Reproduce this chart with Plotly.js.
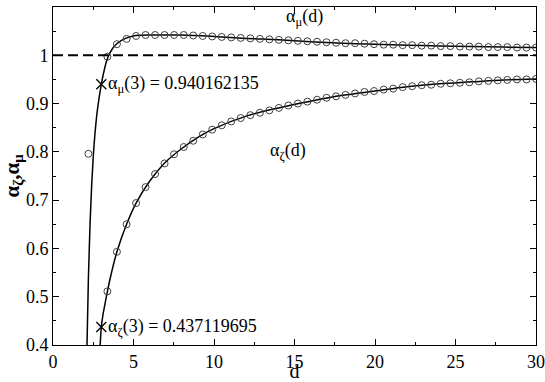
<!DOCTYPE html>
<html>
<head>
<meta charset="utf-8">
<script src="https://cdn.plot.ly/plotly-3.0.1.min.js"></script>
<style>
  html, body { margin: 0; padding: 0; background: #fff; }
  #chart { width: 545px; height: 382px; }
</style>
</head>
<body>
<div id="chart"></div>
<script>
// sample points (circles)
var muD = [2.20, 3.38, 3.97, 4.57, 5.16, 5.75, 6.34, 6.93, 7.52, 8.12, 8.71, 9.30, 9.89,
  10.48, 11.07, 11.66, 12.26, 12.85, 13.44, 14.03, 14.62, 15.21, 15.80, 16.40, 16.99,
  17.58, 18.17, 18.76, 19.35, 19.94, 20.54, 21.13, 21.72, 22.31, 22.90, 23.49, 24.08,
  24.68, 25.27, 25.86, 26.45, 27.04, 27.63, 28.22, 28.82, 29.41, 30.00];
var muVal = [0.796, 0.997, 1.023, 1.034, 1.040, 1.042, 1.042, 1.042, 1.042, 1.042, 1.041,
  1.040, 1.039, 1.038, 1.037, 1.036, 1.035, 1.034, 1.033, 1.032, 1.031, 1.030, 1.029,
  1.028, 1.027, 1.026, 1.025, 1.025, 1.024, 1.023, 1.022, 1.022, 1.021, 1.021, 1.020,
  1.020, 1.019, 1.019, 1.018, 1.018, 1.018, 1.017, 1.017, 1.017, 1.016, 1.016, 1.016];

var zetaD = muD.slice(1);
var zetaVal = [0.511, 0.593, 0.650, 0.694, 0.727, 0.754, 0.776, 0.795, 0.810, 0.823,
  0.836, 0.846, 0.855, 0.863, 0.870, 0.876, 0.881, 0.886, 0.891, 0.896, 0.900, 0.904,
  0.908, 0.912, 0.915, 0.918, 0.921, 0.924, 0.926, 0.929, 0.931, 0.934, 0.936, 0.938,
  0.939, 0.941, 0.942, 0.943, 0.944, 0.946, 0.947, 0.948, 0.949, 0.950, 0.950, 0.951];

// fitted curves (solid lines)
var muLineD = [2.10, 2.20, 2.30, 2.40, 2.50, 2.60, 2.75, 3.00, 3.20, 3.40, 3.70, 4.00,
  4.50, 5.00, 6.00, 7.00, 8.00, 10.0, 12.0, 14.0, 16.0, 18.0, 20.0, 22.0, 24.0, 26.0, 28.0, 30.0];
var muLineVal = [0.38, 0.54, 0.65, 0.73, 0.79, 0.835, 0.885, 0.940, 0.972, 0.995, 1.014,
  1.025, 1.035, 1.040, 1.042, 1.042, 1.042, 1.039, 1.035, 1.032, 1.028, 1.025, 1.023,
  1.021, 1.019, 1.018, 1.017, 1.016];

var zetaLineD = [2.90, 2.95, 3.00, 3.10, 3.20, 3.38, 3.60, 3.97, 4.57, 5.16, 6.00, 7.00,
  8.00, 9.00, 10.0, 12.0, 14.0, 16.0, 18.0, 20.0, 22.0, 24.0, 26.0, 28.0, 30.0];
var zetaLineVal = [0.385, 0.412, 0.437, 0.462, 0.480, 0.511, 0.545, 0.593, 0.650, 0.694,
  0.739, 0.779, 0.807, 0.830, 0.848, 0.874, 0.891, 0.905, 0.917, 0.926, 0.935, 0.941,
  0.945, 0.949, 0.951];

// values at d = 3
var crossD = [3, 3];
var crossVal = [0.940162135, 0.437119695];

var serif = 'Liberation Serif';

var lineStyle = {color: 'black', width: 1.5, shape: 'spline'};
var circleStyle = {symbol: 'circle-open', size: 7, color: '#404040', line: {width: 1, color: '#404040'}};

var data = [
  {x: muLineD, y: muLineVal, mode: 'lines', line: lineStyle, hoverinfo: 'skip'},
  {x: zetaLineD, y: zetaLineVal, mode: 'lines', line: lineStyle, hoverinfo: 'skip'},
  {x: muD, y: muVal, mode: 'markers', marker: circleStyle},
  {x: zetaD, y: zetaVal, mode: 'markers', marker: circleStyle},
  {x: crossD, y: crossVal, mode: 'markers',
   marker: {symbol: 'x-thin-open', size: 10, color: 'black', line: {width: 1.3, color: 'black'}}}
];

var layout = {
  width: 545,
  height: 382,
  margin: {l: 53, r: 9, t: 7, b: 37},
  paper_bgcolor: 'white',
  plot_bgcolor: 'white',
  showlegend: false,
  font: {family: serif, size: 18, color: 'black'},
  xaxis: {
    range: [0, 30],
    dtick: 5,
    showline: true, linecolor: 'black', linewidth: 1, mirror: 'ticks',
    ticks: 'inside', ticklen: 6, tickcolor: 'black',
    showgrid: false, zeroline: false,
    tickfont: {family: serif, size: 18, color: 'black'},
    minor: {dtick: 2.5, ticks: 'inside', ticklen: 3, tickcolor: 'black'},
    title: {text: 'd', font: {family: serif, size: 20, color: 'black'}, standoff: 3}
  },
  yaxis: {
    range: [0.4, 1.1],
    dtick: 0.1,
    showline: true, linecolor: 'black', linewidth: 1, mirror: 'ticks',
    ticks: 'inside', ticklen: 6, tickcolor: 'black',
    showgrid: false, zeroline: false,
    tickfont: {family: serif, size: 18, color: 'black'},
    minor: {dtick: 0.05, ticks: 'inside', ticklen: 3, tickcolor: 'black'},
    title: {text: '<b>α<sub>ζ</sub>,α<sub>μ</sub></b>', font: {family: serif, size: 21, color: 'black'}, standoff: 9}
  },
  shapes: [
    {type: 'line', xref: 'paper', x0: 0, x1: 1, yref: 'y', y0: 1, y1: 1,
     line: {color: 'black', width: 2, dash: '10px,5px'}}
  ],
  annotations: [
    {x: 3.3, y: 0.940162135, xanchor: 'left', yanchor: 'middle', showarrow: false,
     text: 'α<sub>μ</sub>(3) = 0.940162135', font: {family: serif, size: 18, color: 'black'}},
    {x: 3.3, y: 0.437119695, xanchor: 'left', yanchor: 'middle', showarrow: false,
     text: 'α<sub>ζ</sub>(3) = 0.437119695', font: {family: serif, size: 18, color: 'black'}},
    {x: 15.6, y: 1.078, xanchor: 'center', yanchor: 'middle', showarrow: false,
     text: 'α<sub>μ</sub>(d)', font: {family: serif, size: 18, color: 'black'}},
    {x: 14.6, y: 0.80, xanchor: 'center', yanchor: 'middle', showarrow: false,
     text: 'α<sub>ζ</sub>(d)', font: {family: serif, size: 18, color: 'black'}}
  ]
};

Plotly.newPlot('chart', data, layout, {displayModeBar: false, staticPlot: true});
</script>
</body>
</html>
